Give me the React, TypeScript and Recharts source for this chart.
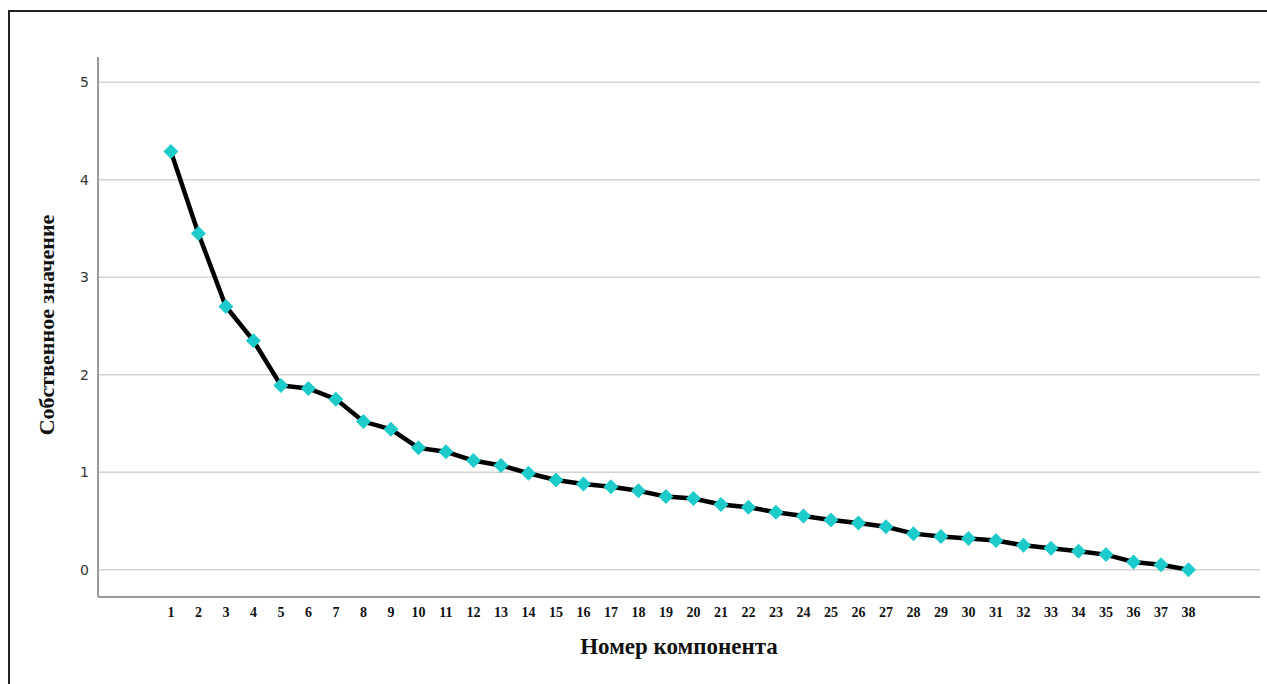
import React from 'react';
import { LineChart, Line, XAxis, YAxis, CartesianGrid } from 'recharts';

const components = [
  1, 2, 3, 4, 5, 6, 7, 8, 9, 10, 11, 12, 13, 14, 15, 16, 17, 18, 19,
  20, 21, 22, 23, 24, 25, 26, 27, 28, 29, 30, 31, 32, 33, 34, 35, 36, 37, 38,
];
const eigenvalues = [
  4.29, 3.45, 2.7, 2.35, 1.89, 1.86, 1.75, 1.52, 1.44, 1.25, 1.21, 1.12, 1.07,
  0.99, 0.92, 0.88, 0.85, 0.81, 0.75, 0.73, 0.67, 0.64, 0.59, 0.55, 0.51, 0.48,
  0.44, 0.37, 0.34, 0.32, 0.3, 0.25, 0.22, 0.19, 0.155, 0.08, 0.05, 0.0,
];
const yTicks = [0, 1, 2, 3, 4, 5];

const data = components.map((c, i) => ({ component: c, value: eigenvalues[i] }));

const Diamond = (props: { cx?: number; cy?: number; index?: number }) => {
  const { cx, cy, index } = props;
  if (cx == null || cy == null) return null;
  const r = 7.5;
  return (
    <polygon
      key={`dot-${index}`}
      points={`${cx},${cy - r} ${cx + r},${cy} ${cx},${cy + r} ${cx - r},${cy}`}
      fill="#1ecbcb"
    />
  );
};

export default function App() {
  return (
    <div style={{ position: 'fixed', left: 0, top: 0, width: 1267, height: 684, background: '#fff', overflow: 'hidden' }}>
      <div
        style={{
          position: 'absolute',
          left: 8,
          top: 10,
          width: 1300,
          height: 800,
          borderLeft: '2px solid #222',
          borderTop: '2px solid #222',
        }}
      />
      <div style={{ position: 'absolute', left: 0, top: 0 }}>
        <LineChart width={1267} height={684} data={data} margin={{ top: 57, right: 7, left: 38, bottom: 57 }}>
          <CartesianGrid vertical={false} horizontalValues={yTicks} stroke="#d2d2d2" strokeWidth={1.5} />
          <XAxis
            dataKey="component"
            type="number"
            domain={[-1.65, 40.6]}
            ticks={components}
            interval={0}
            height={30}
            tickLine={false}
            tickSize={0}
            tickMargin={10}
            axisLine={{ stroke: '#999', strokeWidth: 2 }}
            tick={{ fontSize: 14, fontWeight: 'bold', fill: '#111', fontFamily: '"Liberation Serif", "Times New Roman", serif' }}
          />
          <YAxis
            type="number"
            domain={[-0.28, 5.26]}
            ticks={yTicks}
            width={60}
            tickLine={false}
            tickSize={0}
            tickMargin={9}
            axisLine={{ stroke: '#999', strokeWidth: 2 }}
            tick={{ fontSize: 14, fill: '#333', fontFamily: '"DejaVu Sans", sans-serif' }}
          />
          <Line
            type="linear"
            dataKey="value"
            stroke="#000"
            strokeWidth={4.5}
            dot={<Diamond />}
            activeDot={false}
            isAnimationActive={false}
          />
        </LineChart>
      </div>
      <div
        style={{
          position: 'absolute',
          left: 98,
          width: 1162,
          top: 634,
          textAlign: 'center',
          fontFamily: '"Liberation Serif", "Times New Roman", serif',
          fontWeight: 'bold',
          fontSize: 23,
          color: '#111',
        }}
      >
        Номер компонента
      </div>
      <div
        style={{
          position: 'absolute',
          left: 47,
          top: 325,
          transform: 'translate(-50%, -50%) rotate(-90deg)',
          whiteSpace: 'nowrap',
          fontFamily: '"Liberation Serif", "Times New Roman", serif',
          fontWeight: 'bold',
          fontSize: 22,
          color: '#111',
        }}
      >
        Собственное значение
      </div>
    </div>
  );
}
